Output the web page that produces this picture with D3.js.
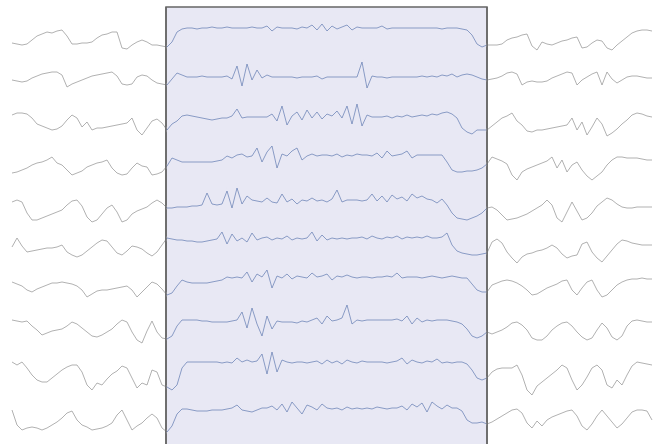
<!DOCTYPE html>
<html lang="en">
    <head>
        <meta charset="utf-8">
        <title>EEG traces</title>
        <script type="text/javascript" src="https://cdn.jsdelivr.net/npm/d3@7"></script>
        <style>
            body { margin: 0; background: #fff; }
        </style>
    </head>
    <body>
        <script type="text/javascript">
            var w = 655;
            var h = 444;

            // event window, in samples
            var eventStart = 30.8;
            var eventEnd = 95;

            var channels = ["Ch1", "Ch2", "Ch3", "Ch4", "Ch5", "Ch6", "Ch7", "Ch8", "Ch9", "Ch10"];

            var ch1 = [-3,-4,-5,-4,0,4,6,8,7,9,10, 4,-4,-4,-3,-3,-2,2,5,6,8, 8,-8,-9,-5,-2,0,-2,-5,-5,-6,
                -7,-2,8,11,12,12,11,12,12,13, 12,12,13,12,12,12,12,13,12,12, 14,9,13,12,12,12,11,13,12,15,
                10,16,9,14,11,13,15,10,13,12, 12,12,12,14,11,12,12,12,12,12, 12,12,12,12,12,11,12,12,12,11,
                10,5,-4,-7,-5, -5,-5,-4,0,2,3,5,6,-6,-10, -2,-4,-5,-3,-1,0,2,3,-8,-7, -3,0,-1,-8,-10,-5,-1,3,7,9, 10,10,9];
            var ch2 = [2,1,0,1,4,6,8,9,10,10,7, -5,-2,0,2,4,6,7,8,9,10, 6,-2,-3,-2,5,7,6,2,-1,-2,
                -3,3,9,7,5,5,5,6,5,5, 5,5,6,3,16,-4,18,2,12,4, 7,5,5,5,5,5,4,5,5,5,
                6,3,5,5,5,5,5,5,5,20, -6,6,5,5,4,5,5,5,5,5, 5,6,5,6,5,7,6,8,5,7,
                8,7,5,3,2, 3,4,6,9,10,8,-3,0,1,0, 0,1,4,6,8,10,9,-3,2,5, 8,10,-3,10,3,-1,2,5,6,6, 5,4,4];
            var ch3 = [9,11,11,10,6,0,-2,-4,-6,-5,-2, 4,9,6,-3,2,-6,-4,-4,-3,-2, -1,0,1,6,-6,-11,-4,3,5,1,
                -6,0,3,8,9,8,7,6,5,4, 5,6,6,8,15,6,7,7,7,7, 7,10,3,18,-1,8,12,4,14,6,
                12,5,10,8,13,6,18,0,20,-2, 9,7,7,7,8,6,8,7,9,7, 8,9,8,10,9,11,12,10,6,-4,
                -8,-10,-6,-6,-6, -2,2,6,8,11,3,-1,-7,-8,-6, -6,-5,-4,-3,-2,-1,6,-6,2,-11, -3,6,0,-12,-9,-5,0,4,9,11, 10,8,7];
            var ch4 = [-7,-6,-4,-2,1,3,4,6,9,3,1, -4,-9,-7,-5,-1,1,3,4,6,-2, -7,-9,-8,-2,3,0,-1,-9,-8,-6,
                0,8,6,4,4,4,4,4,4,4, 5,6,10,8,11,12,9,10,18,4, 14,20,-2,12,10,15,18,6,10,12,
                10,11,11,10,12,9,11,10,12,11, 11,10,13,8,15,10,11,12,15,8, 11,11,11,11,11,11,4,-4,-6,-6,
                -5,-5,-4,-2,2, 9,7,5,2,-9,-14,-6,-3,-1,1, 3,5,9,-2,6,-6,1,4,-4,-10, -14,-10,-6,1,6,9,9,8,8,8, 7,6,6];
            var ch5 = [6,8,6,-5,-12,-12,-10,-8,-6,-4,-2, 3,7,8,2,-9,-14,-12,-6,0,3, -4,-14,-12,-6,-3,-1,1,5,8,5,
                0,0,1,1,1,2,2,3,15,4, 3,4,17,0,20,4,12,8,7,6, 10,6,5,14,6,9,4,8,7,10,
                7,8,6,9,18,6,8,8,8,7, 8,14,7,12,6,13,9,11,7,14, 10,12,9,8,5,9,3,-5,-10,-11,
                -12,-10,-8,-5,0, 1,-2,-7,-12,-11,-10,-8,-6,-3,0, 3,8,3,-10,-14,-4,6,-3,-12,-10, -5,2,6,10,8,4,1,0,0,1, 1,1,1];
            var ch6 = [3,12,4,-2,-1,0,1,2,2,3,5, -2,-5,-7,-5,-1,3,7,10,9,3, -3,-5,-1,4,3,1,-3,-6,-2,5,
                12,11,10,10,9,9,8,8,9,10, 11,18,6,16,9,12,8,17,10,12, 13,10,12,11,14,10,12,11,12,18,
                9,15,10,12,11,12,11,12,12,13, 11,14,12,11,13,12,14,11,13,12, 13,12,14,12,12,13,17,5,-1,-3,
                -4,-5,-5,-4,-3, 8,11,7,-2,-8,-13,-7,-4,-3,-1, 0,2,5,2,-4,-8,-6,-5,6,8, -2,-8,-12,-6,0,6,10,9,7,6, 5,5,5];
            var ch7 = [10,8,6,2,0,3,5,7,9,9,10, 9,8,6,2,-5,-2,1,2,2,3, 4,5,6,2,-5,0,5,10,8,3,
                -3,-1,6,12,10,9,9,9,9,10, 11,12,15,14,15,14,20,10,18,15, 22,4,16,14,18,13,16,15,14,19,
                15,16,18,12,16,15,17,15,14,15, 15,14,15,15,16,15,19,14,15,15, 15,14,15,16,15,14,15,16,15,14,
                14,8,2,0,0, 7,9,11,12,11,9,6,2,-3,-2, 1,4,6,8,11,12,2,-3,4,10, 12,2,-5,-3,2,7,10,12,13,13, 14,13,13];
            var ch8 = [14,13,12,13,8,4,-1,1,3,4,5, 8,12,10,6,2,-2,-3,-1,2,5, 10,14,12,2,-6,-9,3,13,2,-4,
                -5,-2,8,14,14,14,14,13,13,12, 12,12,12,13,14,22,6,26,10,-2, 18,5,13,12,12,12,11,13,12,14,
                16,10,18,13,14,16,29,10,14,13, 14,14,14,14,14,14,15,13,18,10, 16,12,14,13,14,14,14,13,12,10,
                5,-2,-4,-2,2, 0,2,4,7,11,12,9,4,-4,-6, -6,-2,4,8,11,12,8,2,-3,-6, -4,4,11,6,-3,-6,-2,8,13,14, 13,12,12];
            var ch9 = [14,11,14,8,1,-4,-6,-6,-2,2,6, 9,11,11,4,-9,-14,-7,-9,-3,2, 5,10,8,-2,-12,-7,-9,6,4,-9,
                -11,-14,-9,8,14,14,14,14,14,14, 14,13,14,13,18,14,16,14,15,22, 2,24,4,16,14,13,14,14,13,14,
                15,12,16,13,15,12,16,14,13,15, 14,14,14,14,13,14,15,18,12,16, 14,13,15,14,17,13,14,13,14,14,
                12,6,-2,-4,-2, 4,7,8,8,8,11,1,-14,-19,-10, -6,-2,2,6,11,8,-4,-14,-9,-1, 8,11,6,-9,-12,-4,-9,1,10,14, 13,12,11];
            var ch10 = [8,-7,-12,-10,-9,-10,-12,-10,-7,-4,0, 5,7,-2,-7,-9,-12,-11,-10,-8,-5, 3,8,-2,-12,-8,-5,0,4,0,-10,
                -14,-8,4,9,9,8,7,7,7,8, 8,8,9,10,13,8,7,6,8,10, 10,12,8,14,6,16,10,4,13,11,
                8,14,10,9,10,8,11,9,10,9, 10,9,11,10,9,10,10,12,8,14, 11,15,6,16,12,9,13,10,10,7,
                -2,-5,-5,-4,-6, -4,-1,2,5,8,9,5,-5,-10,-3, -8,-2,1,3,5,7,8,2,-8,-12, -6,2,8,2,-4,-10,-6,0,6,8, 8,7,-2];

            var traces = [ch1, ch2, ch3, ch4, ch5, ch6, ch7, ch8, ch9, ch10];

            var svg = d3.select("body").append("svg").attr("width", w).attr("height", h);

            var xscale = d3.scaleLinear().domain([0, ch1.length - 1]).range([12, 652]);
            var yband = d3.scalePoint().domain(channels).range([40, 418]);
            // amplitude -> pixel offset, 1 unit = 1px, up is positive
            var amp = d3.scaleLinear().domain([-20, 20]).range([20, -20]);

            // highlighted event window
            var boxTop = 7;
            svg.append("rect")
               .attr("x", xscale(eventStart))
               .attr("y", boxTop)
               .attr("width", xscale(eventEnd) - xscale(eventStart))
               .attr("height", h - boxTop + 2)
               .attr("fill", "#e8e8f4")
               .attr("stroke", "#666")
               .attr("stroke-width", 1.5);

            svg.append("clipPath").attr("id", "inside")
               .append("rect")
               .attr("x", xscale(eventStart))
               .attr("y", 0)
               .attr("width", xscale(eventEnd) - xscale(eventStart))
               .attr("height", h);

            var line = function (ch) {
                return d3.line()
                    .x(function (d, i) { return xscale(i); })
                    .y(function (d) { return yband(ch) + amp(d); });
            };

            // gray traces everywhere, blue over the event window
            svg.selectAll("path.out").data(traces).enter().append("path")
               .attr("class", "out")
               .attr("d", function (d, i) { return line(channels[i])(d); })
               .attr("fill", "none")
               .attr("stroke", "#999")
               .attr("stroke-opacity", 0.85)
               .attr("stroke-width", 0.9);

            svg.append("g").attr("clip-path", "url(#inside)")
               .selectAll("path").data(traces).enter().append("path")
               .attr("d", function (d, i) { return line(channels[i])(d); })
               .attr("fill", "none")
               .attr("stroke", "#e8e8f4")
               .attr("stroke-width", 3);

            svg.append("g").attr("clip-path", "url(#inside)")
               .selectAll("path").data(traces).enter().append("path")
               .attr("d", function (d, i) { return line(channels[i])(d); })
               .attr("fill", "none")
               .attr("stroke", "#6a82b6")
               .attr("stroke-opacity", 0.85)
               .attr("stroke-width", 0.9);

            // redraw the side borders on top
            [eventStart, eventEnd].forEach(function (t) {
                svg.append("line")
                   .attr("x1", xscale(t)).attr("x2", xscale(t))
                   .attr("y1", boxTop).attr("y2", h)
                   .attr("stroke", "#666").attr("stroke-width", 1.5);
            });
        </script>
    </body>
</html>
